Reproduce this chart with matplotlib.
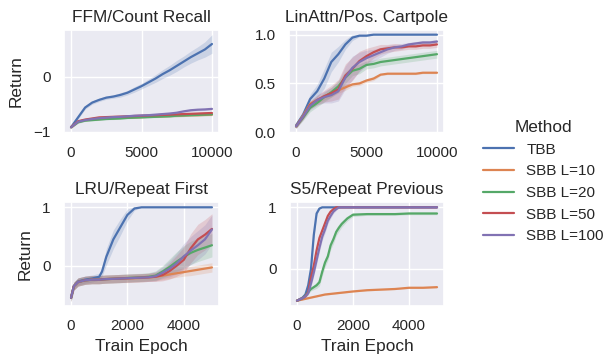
import numpy as np
import matplotlib
matplotlib.use("Agg")
import matplotlib.pyplot as plt
import seaborn as sns

sns.set_theme(style="darkgrid", context="notebook")
plt.rcParams['font.family'] = ['Liberation Sans', 'DejaVu Sans']

methods = ["TBB", "SBB L=10", "SBB L=20", "SBB L=50", "SBB L=100"]
colors = sns.color_palette()[:5]

# ---------------- FFM / Count Recall ----------------
ffm_x = [0, 500, 1000, 1500, 2000, 2500, 3000, 3500, 4000, 4500, 5000,
         5500, 6000, 6500, 7000, 7500, 8000, 8500, 9000, 9500, 10000]
ffm_tbb = [-0.92, -0.74, -0.56, -0.47, -0.42, -0.38, -0.36, -0.33, -0.29, -0.23, -0.17,
           -0.10, -0.03, 0.05, 0.12, 0.20, 0.28, 0.36, 0.43, 0.50, 0.60]
ffm_l10 = [-0.92, -0.82, -0.79, -0.78, -0.77, -0.76, -0.755, -0.75, -0.745, -0.74, -0.735,
           -0.73, -0.725, -0.72, -0.715, -0.71, -0.705, -0.70, -0.70, -0.695, -0.69]
ffm_l20 = [-0.92, -0.83, -0.80, -0.79, -0.78, -0.77, -0.765, -0.76, -0.75, -0.745, -0.74,
           -0.735, -0.73, -0.725, -0.72, -0.71, -0.705, -0.70, -0.695, -0.69, -0.685]
ffm_l50 = [-0.92, -0.81, -0.78, -0.76, -0.74, -0.735, -0.73, -0.725, -0.72, -0.715, -0.71,
           -0.705, -0.70, -0.695, -0.69, -0.685, -0.68, -0.675, -0.67, -0.665, -0.66]
ffm_l100 = [-0.92, -0.82, -0.79, -0.77, -0.755, -0.745, -0.735, -0.73, -0.72, -0.71, -0.705,
            -0.70, -0.69, -0.68, -0.67, -0.655, -0.63, -0.61, -0.60, -0.595, -0.585]
ffm_tbb_err = [0.02, 0.03, 0.03, 0.03, 0.03, 0.03, 0.03, 0.04, 0.04, 0.05, 0.05,
               0.06, 0.07, 0.08, 0.09, 0.10, 0.10, 0.11, 0.12, 0.14, 0.17]
ffm_other_err = [0.02, 0.02, 0.015, 0.015, 0.015, 0.015, 0.015, 0.015, 0.015, 0.015, 0.015,
                 0.015, 0.015, 0.015, 0.02, 0.02, 0.02, 0.02, 0.02, 0.02, 0.02]

# ---------------- LinAttn / Pos. Cartpole ----------------
lin_x = ffm_x
lin_tbb = [0.07, 0.18, 0.34, 0.42, 0.55, 0.72, 0.80, 0.90, 0.97, 0.99, 0.99,
           1.0, 1.0, 1.0, 1.0, 1.0, 1.0, 1.0, 1.0, 1.0, 1.0]
lin_l10 = [0.06, 0.17, 0.29, 0.33, 0.36, 0.39, 0.43, 0.46, 0.49, 0.50, 0.53,
           0.55, 0.59, 0.60, 0.60, 0.60, 0.60, 0.60, 0.61, 0.61, 0.61]
lin_l20 = [0.06, 0.15, 0.25, 0.30, 0.36, 0.41, 0.47, 0.56, 0.63, 0.65, 0.69,
           0.70, 0.72, 0.73, 0.74, 0.75, 0.76, 0.77, 0.78, 0.79, 0.80]
lin_l50 = [0.06, 0.16, 0.28, 0.33, 0.37, 0.40, 0.44, 0.58, 0.65, 0.73, 0.78,
           0.82, 0.85, 0.86, 0.87, 0.87, 0.88, 0.88, 0.89, 0.89, 0.90]
lin_l100 = [0.06, 0.16, 0.27, 0.33, 0.36, 0.38, 0.42, 0.56, 0.66, 0.72, 0.76,
            0.79, 0.82, 0.85, 0.87, 0.88, 0.90, 0.91, 0.92, 0.92, 0.93]
lin_tbb_err = [0.03, 0.04, 0.05, 0.07, 0.10, 0.10, 0.08, 0.05, 0.03, 0.01, 0.01,
               0.0, 0.0, 0.0, 0.0, 0.0, 0.0, 0.0, 0.0, 0.0, 0.0]
lin_l10_err = [0.02, 0.03, 0.03, 0.03, 0.03, 0.03, 0.03, 0.03, 0.02, 0.02, 0.02,
               0.02, 0.01, 0.01, 0.01, 0.01, 0.01, 0.01, 0.01, 0.01, 0.01]
lin_l20_err = [0.02, 0.03, 0.04, 0.04, 0.05, 0.05, 0.06, 0.06, 0.05, 0.05, 0.04,
               0.04, 0.04, 0.04, 0.04, 0.04, 0.04, 0.04, 0.04, 0.04, 0.04]
lin_l50_err = [0.02, 0.03, 0.04, 0.05, 0.06, 0.08, 0.10, 0.12, 0.12, 0.10, 0.08,
               0.06, 0.05, 0.04, 0.04, 0.03, 0.03, 0.03, 0.03, 0.03, 0.03]
lin_l100_err = [0.02, 0.03, 0.04, 0.05, 0.06, 0.08, 0.10, 0.12, 0.12, 0.10, 0.08,
                0.06, 0.05, 0.04, 0.03, 0.03, 0.02, 0.02, 0.02, 0.02, 0.02]

# ---------------- LRU / Repeat First ----------------
lru_x = [0, 100, 250, 500, 750, 1000, 1100, 1250, 1500, 1750, 2000, 2250,
         2500, 2750, 3000, 3250, 3500, 3750, 4000, 4250, 4500, 4750, 5000]
lru_tbb = [-0.55, -0.35, -0.27, -0.24, -0.22, -0.19, -0.10, 0.15, 0.45, 0.66, 0.87, 0.98,
           1.0, 1.0, 1.0, 1.0, 1.0, 1.0, 1.0, 1.0, 1.0, 1.0, 1.0]
lru_l10 = [-0.55, -0.35, -0.28, -0.25, -0.24, -0.24, -0.235, -0.23, -0.225, -0.22, -0.22, -0.215,
           -0.21, -0.20, -0.19, -0.17, -0.15, -0.13, -0.11, -0.09, -0.07, -0.05, -0.03]
lru_l20 = [-0.55, -0.35, -0.28, -0.25, -0.24, -0.24, -0.235, -0.23, -0.225, -0.22, -0.21, -0.205,
           -0.20, -0.19, -0.17, -0.10, -0.02, 0.07, 0.15, 0.22, 0.27, 0.31, 0.35]
lru_l50 = [-0.55, -0.35, -0.28, -0.25, -0.24, -0.24, -0.235, -0.23, -0.225, -0.22, -0.215, -0.21,
           -0.205, -0.20, -0.19, -0.16, -0.09, 0.0, 0.10, 0.30, 0.45, 0.53, 0.63]
lru_l100 = [-0.55, -0.35, -0.28, -0.25, -0.24, -0.24, -0.235, -0.23, -0.225, -0.22, -0.215, -0.21,
            -0.205, -0.20, -0.18, -0.12, -0.05, 0.04, 0.16, 0.26, 0.35, 0.45, 0.62]
lru_tbb_err = [0.06, 0.06, 0.06, 0.06, 0.06, 0.06, 0.08, 0.14, 0.16, 0.14, 0.10, 0.03,
               0.0, 0.0, 0.0, 0.0, 0.0, 0.0, 0.0, 0.0, 0.0, 0.0, 0.0]
lru_l10_err = [0.06, 0.07, 0.07, 0.07, 0.07, 0.07, 0.07, 0.07, 0.07, 0.07, 0.07, 0.07,
               0.07, 0.07, 0.07, 0.07, 0.07, 0.07, 0.07, 0.08, 0.08, 0.08, 0.08]
lru_l20_err = [0.06, 0.07, 0.07, 0.07, 0.07, 0.07, 0.07, 0.07, 0.07, 0.07, 0.07, 0.07,
               0.07, 0.07, 0.08, 0.10, 0.14, 0.17, 0.19, 0.20, 0.20, 0.20, 0.20]
lru_l50_err = [0.06, 0.07, 0.07, 0.07, 0.07, 0.07, 0.07, 0.07, 0.07, 0.07, 0.07, 0.07,
               0.07, 0.07, 0.08, 0.10, 0.14, 0.18, 0.22, 0.25, 0.26, 0.26, 0.26]
lru_l100_err = [0.06, 0.07, 0.07, 0.07, 0.07, 0.07, 0.07, 0.07, 0.07, 0.07, 0.07, 0.07,
                0.07, 0.07, 0.08, 0.10, 0.14, 0.18, 0.22, 0.24, 0.25, 0.25, 0.25]

# ---------------- S5 / Repeat Previous ----------------
s5_x = [0, 200, 300, 400, 500, 600, 700, 800, 900, 1000, 1100, 1200, 1300, 1400,
        1500, 1600, 1800, 2000, 2500, 3000, 3500, 4000, 4500, 5000]
s5_tbb = [-0.52, -0.47, -0.42, -0.27, 0.0, 0.55, 0.90, 0.98, 1.0, 1.0, 1.0, 1.0, 1.0, 1.0,
          1.0, 1.0, 1.0, 1.0, 1.0, 1.0, 1.0, 1.0, 1.0, 1.0]
s5_l10 = [-0.52, -0.50, -0.49, -0.48, -0.47, -0.46, -0.45, -0.44, -0.43, -0.42, -0.415, -0.41,
          -0.405, -0.40, -0.395, -0.39, -0.38, -0.37, -0.35, -0.34, -0.33, -0.31, -0.31, -0.30]
s5_l20 = [-0.52, -0.48, -0.44, -0.38, -0.33, -0.30, -0.27, -0.22, -0.05, 0.10, 0.20, 0.38,
          0.48, 0.60, 0.67, 0.73, 0.82, 0.88, 0.89, 0.89, 0.89, 0.90, 0.90, 0.90]
s5_l50 = [-0.52, -0.48, -0.45, -0.38, -0.14, 0.05, 0.30, 0.50, 0.62, 0.74, 0.86, 0.93,
          0.97, 1.0, 1.0, 1.0, 1.0, 1.0, 1.0, 1.0, 1.0, 1.0, 1.0, 1.0]
s5_l100 = [-0.52, -0.48, -0.45, -0.40, -0.24, -0.06, 0.14, 0.34, 0.52, 0.64, 0.78, 0.86,
           0.93, 0.97, 1.0, 1.0, 1.0, 1.0, 1.0, 1.0, 1.0, 1.0, 1.0, 1.0]
s5_tbb_err = [0.01, 0.01, 0.02, 0.03, 0.05, 0.05, 0.03, 0.01, 0.0, 0.0, 0.0, 0.0, 0.0, 0.0,
              0.0, 0.0, 0.0, 0.0, 0.0, 0.0, 0.0, 0.0, 0.0, 0.0]
s5_l10_err = [0.01, 0.01, 0.01, 0.01, 0.01, 0.01, 0.01, 0.01, 0.01, 0.01, 0.01, 0.01,
              0.01, 0.01, 0.01, 0.01, 0.01, 0.01, 0.01, 0.01, 0.01, 0.01, 0.01, 0.01]
s5_l20_err = [0.01, 0.02, 0.02, 0.03, 0.03, 0.04, 0.05, 0.06, 0.07, 0.07, 0.07, 0.07,
              0.07, 0.06, 0.06, 0.05, 0.04, 0.03, 0.02, 0.02, 0.02, 0.02, 0.02, 0.02]
s5_l50_err = [0.01, 0.02, 0.02, 0.03, 0.05, 0.06, 0.06, 0.05, 0.05, 0.04, 0.04, 0.03,
              0.02, 0.01, 0.0, 0.0, 0.0, 0.0, 0.0, 0.0, 0.0, 0.0, 0.0, 0.0]
s5_l100_err = [0.01, 0.02, 0.02, 0.03, 0.05, 0.06, 0.07, 0.07, 0.06, 0.06, 0.05, 0.04,
               0.03, 0.02, 0.01, 0.0, 0.0, 0.0, 0.0, 0.0, 0.0, 0.0, 0.0, 0.0]

panels = [
    ("FFM/Count Recall", ffm_x, [ffm_tbb, ffm_l10, ffm_l20, ffm_l50, ffm_l100],
     [ffm_tbb_err, ffm_other_err, ffm_other_err, ffm_other_err, ffm_other_err],
     [0, 5000, 10000], [-1, 0], ["−1", "0"]),
    ("LinAttn/Pos. Cartpole", lin_x, [lin_tbb, lin_l10, lin_l20, lin_l50, lin_l100],
     [lin_tbb_err, lin_l10_err, lin_l20_err, lin_l50_err, lin_l100_err],
     [0, 5000, 10000], [0.0, 0.5, 1.0], ["0.0", "0.5", "1.0"]),
    ("LRU/Repeat First", lru_x, [lru_tbb, lru_l10, lru_l20, lru_l50, lru_l100],
     [lru_tbb_err, lru_l10_err, lru_l20_err, lru_l50_err, lru_l100_err],
     [0, 2000, 4000], [0, 1], ["0", "1"]),
    ("S5/Repeat Previous", s5_x, [s5_tbb, s5_l10, s5_l20, s5_l50, s5_l100],
     [s5_tbb_err, s5_l10_err, s5_l20_err, s5_l50_err, s5_l100_err],
     [0, 2000, 4000], [0, 1], ["0", "1"]),
]

fig = plt.figure(figsize=(6.06, 3.56), dpi=100)
W, H = 606, 356
rects = [(64, 30, 219, 133), (289, 30, 444, 133), (64, 202, 219, 306), (290, 202, 444, 306)]
axes = []
for (l, t, r, b) in rects:
    axes.append(fig.add_axes([l / W, 1 - b / H, (r - l) / W, (b - t) / H]))

handles = []
for i, (ax, (title, xs, series, errs, xt, yt, ytl)) in enumerate(zip(axes, panels)):
    x = np.array(xs, dtype=float)
    for j, (ys, es) in enumerate(zip(series, errs)):
        y = np.array(ys)
        e = np.array(es)
        ax.fill_between(x, y - e, y + e, color=colors[j], alpha=0.2, linewidth=0)
        ln, = ax.plot(x, y, color=colors[j], lw=1.6, label=methods[j])
        if i == 0:
            handles.append(ln)
    ax.set_title(title, fontsize=12.4, pad=6)
    ax.set_xticks(xt)
    ax.set_xticklabels([str(v) for v in xt])
    ax.set_yticks(yt)
    ax.set_yticklabels(ytl)
    ax.tick_params(labelsize=11)
    if i in (0, 2):
        ax.set_ylabel("Return", fontsize=12.4, labelpad=7)
    if i in (2, 3):
        ax.set_xlabel("Train Epoch", fontsize=12.4)

leg = fig.legend(handles, methods, title="Method", loc="center left",
                 bbox_to_anchor=(0.775, 0.49), frameon=False, fontsize=11,
                 title_fontsize=12.4)

fig.savefig("out.png", dpi=100)
